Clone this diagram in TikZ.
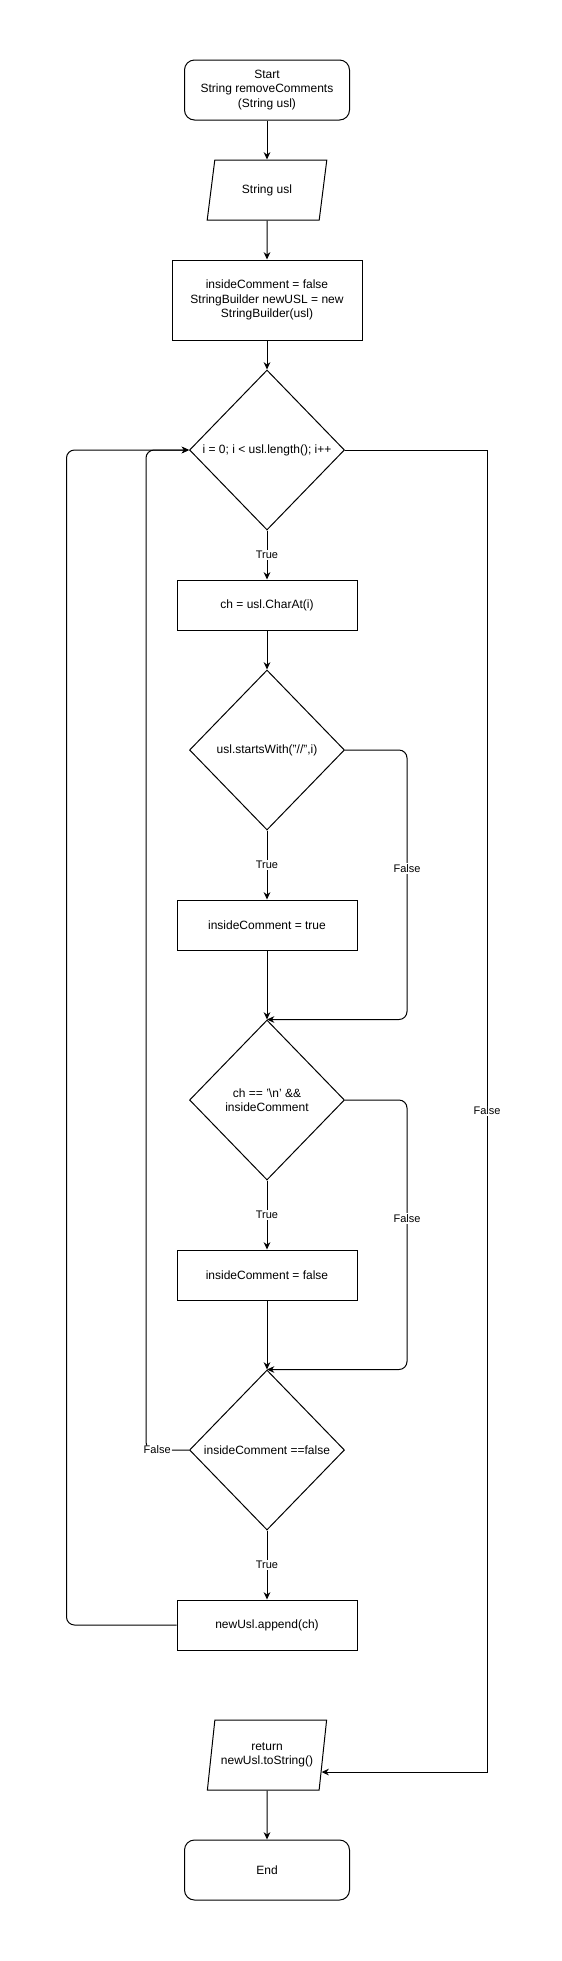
\documentclass[tikz,border=0pt]{standalone}
\usepackage{fontspec}
\setmainfont{Liberation Sans}
\usepackage{tikz}
\usetikzlibrary{shapes.geometric,arrows.meta,positioning,calc}
\tikzset{
    terminal/.style={
        rectangle, rounded corners=7.5pt, draw=black,
        minimum width=123.75pt, minimum height=45pt,
        align=center, font=\fontsize{9}{10.8}\selectfont
    },
    iobox/.style={
        trapezium, trapezium left angle=72, trapezium right angle=108,
        trapezium stretches=true, draw=black,
        minimum width=90pt, minimum height=45pt, inner sep=0pt,
        align=center, font=\fontsize{9}{10.8}\selectfont
    },
    process/.style={
        rectangle, draw=black,
        minimum width=135pt, minimum height=37.5pt,
        align=center, font=\fontsize{9}{10.8}\selectfont
    },
    decision/.style={
        diamond, draw=black, inner sep=0pt,
        minimum width=116.25pt, minimum height=120pt,
        align=center, font=\fontsize{9}{10.8}\selectfont
    },
    lbl/.style={fill=white, inner sep=1pt, font=\fontsize{8.25}{9.9}\selectfont},
    arrow/.style={-{Stealth[length=5.5pt,width=5pt]}},
    every path/.style={line width=0.75pt}
}
\begin{document}
\begin{tikzpicture}[x=0.75pt,y=-0.75pt]
\useasboundingbox (0,0) rectangle (561,1961);

% ---- Setup ----
\node[terminal] (start) at (267, 90) {Start\\String removeComments\\(String usl)};
\node[iobox] (in) at (267, 190) {String usl};
\node[process, minimum width=142.5pt, minimum height=60pt] (init) at (267, 300) {insideComment = false\\StringBuilder newUSL = new\\StringBuilder(usl)};

% ---- Loop body ----
\node[decision] (d1) at (267, 450) {i = 0; i < usl.length(); i++};
\node[process] (ch) at (267, 605) {ch = usl.CharAt(i)};
\node[decision] (d2) at (267, 750) {usl.startsWith("//",i)};
\node[process] (t1) at (267, 925) {insideComment = true};
\node[decision] (d3) at (267, 1100) {ch == '\textbackslash n' \&\&\\insideComment};
\node[process] (f1) at (267, 1275) {insideComment = false};
\node[decision] (d4) at (267, 1450) {insideComment ==false};
\node[process] (app) at (267, 1625) {newUsl.append(ch)};

% ---- Finish ----
\node[iobox, minimum height=52.5pt, trapezium left angle=75, trapezium right angle=105] (ret) at (267, 1755) {return\\newUsl.toString()};
\node[terminal] (end) at (267, 1870) {End};

% Main flow
\draw[arrow] (start) -- (in);
\draw[arrow] (in) -- (init);
\draw[arrow] (init) -- (d1);
\draw[arrow] (d1) -- node[lbl]{True} (ch);
\draw[arrow] (ch) -- (d2);
\draw[arrow] (d2) -- node[lbl]{True} (t1);
\draw[arrow] (t1) -- (d3);
\draw[arrow] (d3) -- node[lbl]{True} (f1);
\draw[arrow] (f1) -- (d4);
\draw[arrow] (d4) -- node[lbl]{True} (app);
\draw[arrow] (ret) -- (end);

% False branches skip to the next test
\draw[arrow, rounded corners=6pt] (d2.east) -- ++(62,0) |- node[lbl, pos=0.22]{False} (d3.north);
\draw[arrow, rounded corners=6pt] (d3.east) -- ++(62,0) |- node[lbl, pos=0.22]{False} (d4.north);

% Back to the loop test
\draw[arrow, rounded corners=6pt] (d4.west) -- node[lbl, pos=0.74]{False} ++(-43,0) |- (d1.west);
\draw[arrow, rounded corners=6pt] (app.west) -- ++(-110,0) |- (d1.west);

% Loop exit
\draw[arrow] (d1.east) -- ++(142,0) |- node[lbl, pos=0.25]{False} ($(ret.top right corner)!0.74!(ret.bottom right corner)$);

\end{tikzpicture}
\end{document}
